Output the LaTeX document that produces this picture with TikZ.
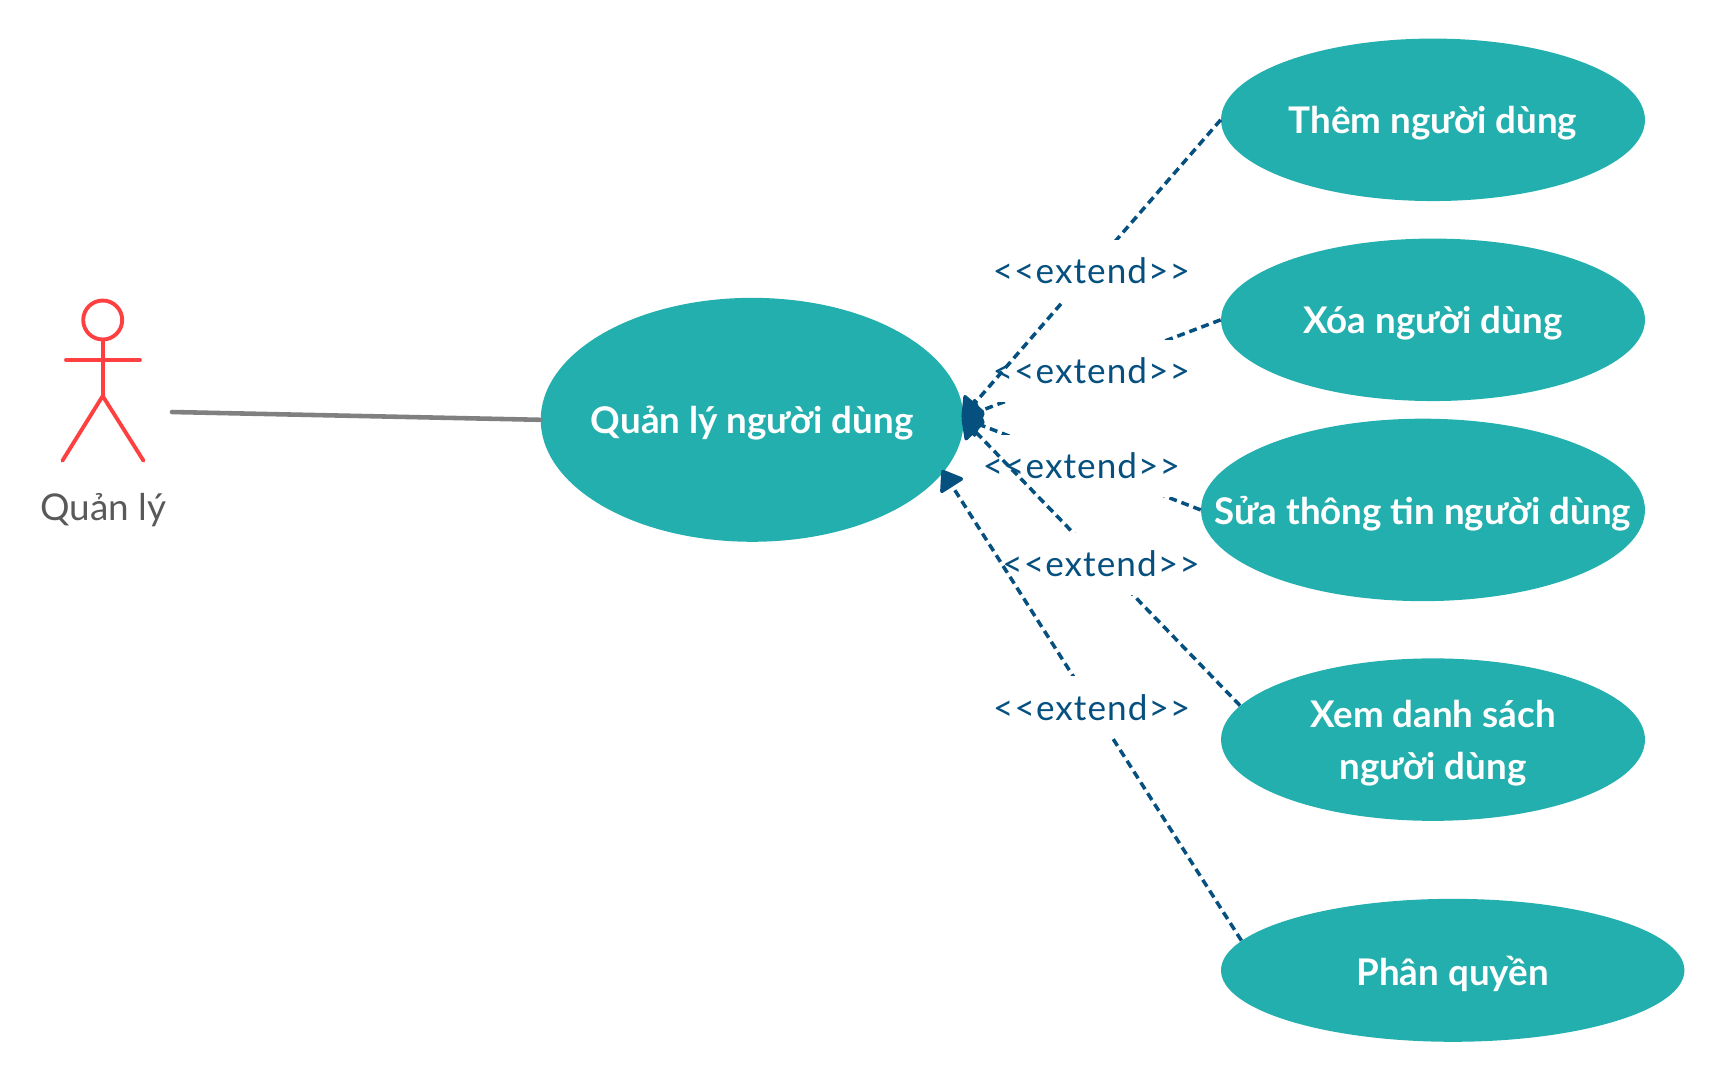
\documentclass[tikz,border=0pt]{standalone}
\usepackage{fontspec}
\setmainfont{Lato}
\usetikzlibrary{shapes.geometric,arrows.meta}
\definecolor{teal}{HTML}{23AFAE}
\definecolor{navy}{HTML}{05507F}
\definecolor{actorred}{HTML}{FF4040}
\tikzset{
  usecase/.style={ellipse,fill=teal,inner sep=0pt},
  casetext/.style={text=white,inner sep=0pt,align=center,yshift=-.066cm,
    font=\fontsize{20.9}{29.6}\selectfont\bfseries},
  extendline/.style={navy,line width=2pt,dash pattern=on 4.5pt off 2.8pt,
    -{Triangle[length=.42cm,width=.58cm,round]}},
  extendlabel/.style={fill=white,text=navy,inner sep=0pt,minimum width=3.95cm,yshift=-.04cm,
    minimum height=1.24cm,font=\fontsize{20}{24}\selectfont\addfontfeature{LetterSpace=3}},
  actorline/.style={actorred,line width=2.2pt,line cap=round}
}
\begin{document}
\begin{tikzpicture}[x=.02cm,y=-.02cm]
  \useasboundingbox (0,0) rectangle (1723,1080);
  % use cases
  \node[usecase,minimum width=8.46cm,minimum height=4.88cm,
    label={[casetext]center:Quản lý người dùng}] (main) at (752.2,419.8) {};
  \node[usecase,minimum width=8.48cm,minimum height=3.25cm,
    label={[casetext]center:Thêm người dùng}] (them) at (1433,119.8) {};
  \node[usecase,minimum width=8.48cm,minimum height=3.25cm,
    label={[casetext]center:Xóa người dùng}] (xoa) at (1433,319.8) {};
  \node[usecase,minimum width=8.88cm,minimum height=3.65cm,
    label={[casetext]center:Sửa thông tin người dùng}] (sua) at (1423,509.9) {};
  \node[usecase,minimum width=8.48cm,minimum height=3.25cm,
    label={[casetext]center:{Xem danh sách\\người dùng}}] (xem) at (1433,739.6) {};
  \node[usecase,minimum width=9.27cm,minimum height=2.86cm,
    label={[casetext]center:Phân quyền}] (phan) at (1452.7,970.3) {};
  % actor
  \node[circle,draw=actorred,line width=2.2pt,minimum size=.78cm,inner sep=0pt] (head) at (102.7,320) {};
  \coordinate (hip) at (102.7,396);
  \draw[actorline] (head.south) -- (hip);
  \draw[actorline] (66,360) -- (140,360);
  \draw[actorline] (62.4,460.7) -- (hip) -- (143.5,460.7);
  \node[text=black!65,font=\fontsize{21}{24}\selectfont] (actorname) at (103.2,510) {Quản lý};
  \coordinate (actorend) at (172,412);
  \draw[gray,line width=2.6pt,line cap=round] (actorend) -- (main.west);
  % extend connectors
  \coordinate (hub) at ([shift={(-2,-2)}]main.east);
  \coordinate (hublow) at (942,470);
  \foreach \from in {xoa.west,them.west,sua.west,xem.170} {
    \draw[extendline] (\from) -- node[extendlabel] {<{}<extend>{}>} (hub);
  }
  \draw[extendline] (phan.172) -- node[extendlabel] {<{}<extend>{}>} (hublow);
\end{tikzpicture}
\end{document}
